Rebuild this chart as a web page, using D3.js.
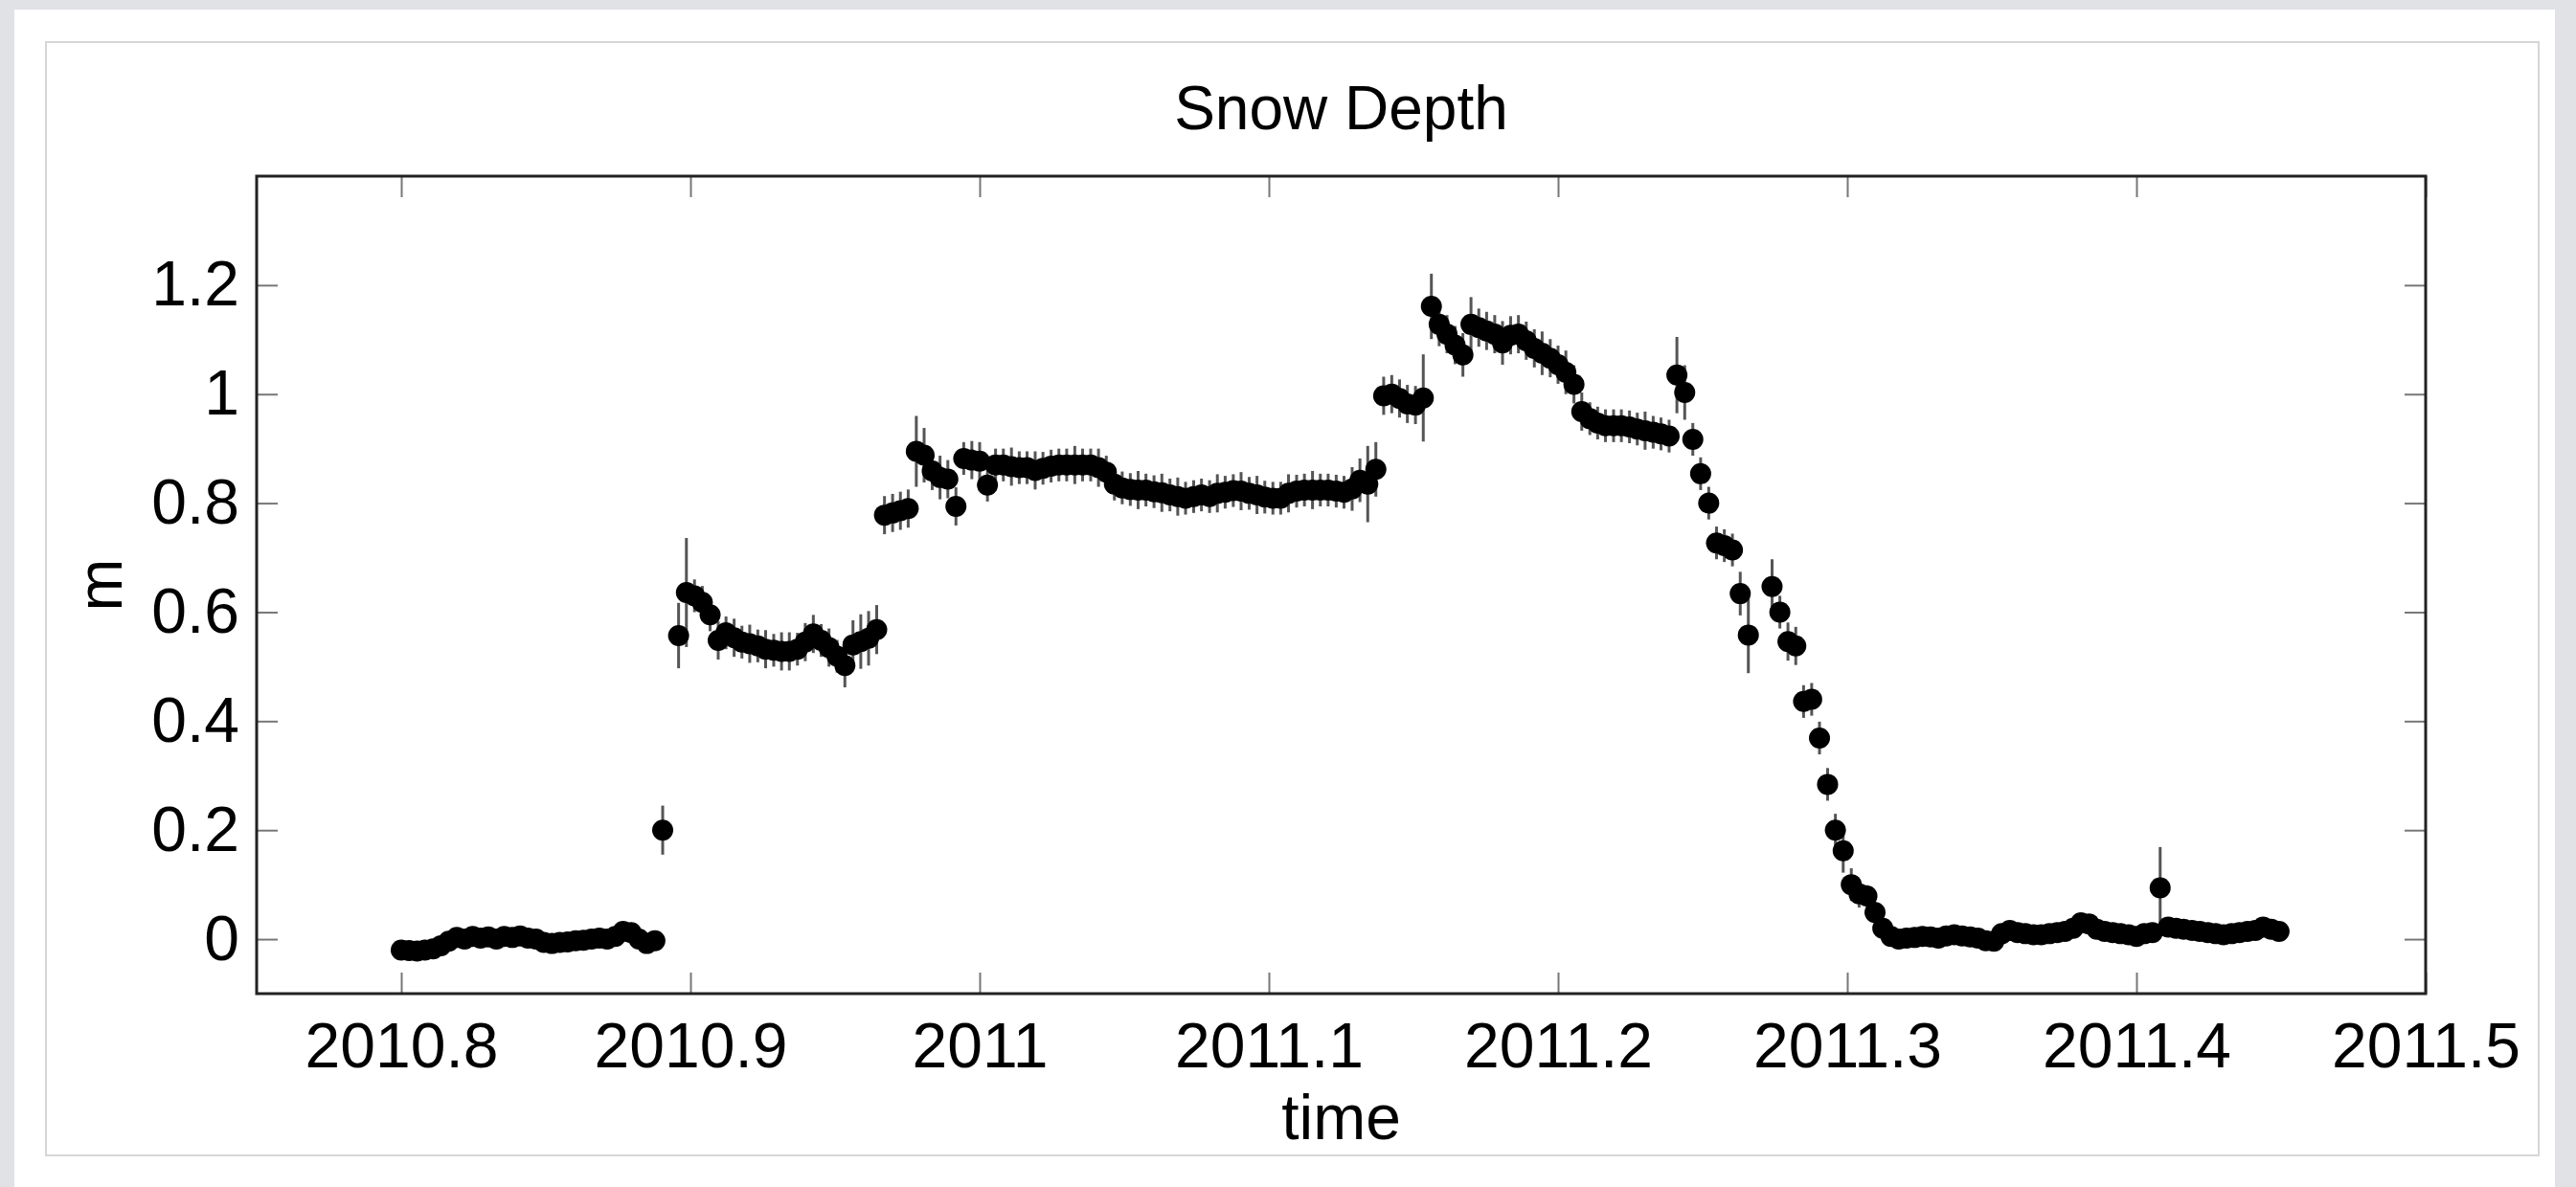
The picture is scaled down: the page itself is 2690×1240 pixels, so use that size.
<!DOCTYPE html>
<html><head><meta charset="utf-8">
<script src="https://cdn.jsdelivr.net/npm/d3@7"></script>
<style>
html,body{margin:0;padding:0;background:#e1e2e6;}
svg{display:block;}
</style></head>
<body>
<svg id="chart" width="2690" height="1240"></svg>
<script>
// ---- data (decimal year, snow depth in m, error in m) ----
const years = [
2010.8000,2010.8027,2010.8055,2010.8082,2010.8110,2010.8137,2010.8164,2010.8192,2010.8219,2010.8247,
2010.8274,2010.8301,2010.8329,2010.8356,2010.8384,2010.8411,2010.8438,2010.8466,2010.8493,2010.8521,
2010.8548,2010.8575,2010.8603,2010.8630,2010.8658,2010.8685,2010.8712,2010.8740,2010.8767,2010.8795,
2010.8822,2010.8849,2010.8877,2010.8904,2010.8959,2010.8986,2010.9014,2010.9041,2010.9068,2010.9096,
2010.9123,2010.9151,2010.9178,2010.9205,2010.9233,2010.9260,2010.9288,2010.9315,2010.9342,2010.9370,
2010.9397,2010.9425,2010.9452,2010.9479,2010.9507,2010.9534,2010.9562,2010.9589,2010.9616,2010.9644,
2010.9671,2010.9699,2010.9726,2010.9753,2010.9781,2010.9808,2010.9836,2010.9863,2010.9890,2010.9918,
2010.9945,2010.9973,2011.0000,2011.0027,2011.0055,2011.0082,2011.0110,2011.0137,2011.0164,2011.0192,
2011.0219,2011.0247,2011.0274,2011.0301,2011.0329,2011.0356,2011.0384,2011.0411,2011.0438,2011.0466,
2011.0493,2011.0521,2011.0548,2011.0575,2011.0603,2011.0630,2011.0658,2011.0685,2011.0712,2011.0740,
2011.0767,2011.0795,2011.0822,2011.0849,2011.0877,2011.0904,2011.0932,2011.0959,2011.0986,2011.1014,
2011.1041,2011.1068,2011.1096,2011.1123,2011.1151,2011.1178,2011.1205,2011.1233,2011.1260,2011.1288,
2011.1315,2011.1342,2011.1370,2011.1397,2011.1425,2011.1452,2011.1479,2011.1507,2011.1534,2011.1562,
2011.1589,2011.1616,2011.1644,2011.1671,2011.1699,2011.1726,2011.1753,2011.1781,2011.1808,2011.1836,
2011.1863,2011.1890,2011.1918,2011.1945,2011.1973,2011.2000,2011.2027,2011.2055,2011.2082,2011.2110,
2011.2137,2011.2164,2011.2192,2011.2219,2011.2247,2011.2274,2011.2301,2011.2329,2011.2356,2011.2384,
2011.2411,2011.2438,2011.2466,2011.2493,2011.2521,2011.2548,2011.2575,2011.2603,2011.2630,2011.2658,
2011.2740,2011.2767,2011.2795,2011.2822,2011.2849,2011.2877,2011.2904,2011.2932,2011.2959,2011.2986,
2011.3014,2011.3041,2011.3068,2011.3096,2011.3123,2011.3151,2011.3178,2011.3205,2011.3233,2011.3260,
2011.3288,2011.3315,2011.3342,2011.3370,2011.3397,2011.3425,2011.3452,2011.3479,2011.3507,2011.3534,
2011.3562,2011.3589,2011.3616,2011.3644,2011.3671,2011.3699,2011.3726,2011.3753,2011.3781,2011.3808,
2011.3836,2011.3863,2011.3890,2011.3918,2011.3945,2011.3973,2011.4000,2011.4027,2011.4055,2011.4082,
2011.4110,2011.4137,2011.4164,2011.4192,2011.4219,2011.4247,2011.4274,2011.4301,2011.4329,2011.4356,
2011.4384,2011.4411,2011.4438,2011.4466,2011.4493
];
const depth = [
-0.020,-0.021,-0.022,-0.020,-0.018,-0.012,-0.004,0.003,0.000,0.005,
0.002,0.004,0.000,0.005,0.003,0.006,0.002,0.000,-0.006,-0.008,
-0.006,-0.005,-0.003,-0.002,0.000,0.002,0.000,0.005,0.014,0.012,
0.000,-0.008,-0.003,0.200,0.557,0.636,0.630,0.618,0.595,0.548,
0.562,0.553,0.545,0.542,0.538,0.532,0.530,0.528,0.528,0.532,
0.545,0.560,0.548,0.535,0.519,0.502,0.540,0.546,0.552,0.568,
0.778,0.782,0.786,0.790,0.895,0.888,0.859,0.847,0.844,0.794,
0.882,0.879,0.877,0.833,0.870,0.870,0.867,0.865,0.865,0.860,
0.864,0.868,0.870,0.870,0.870,0.870,0.870,0.865,0.857,0.835,
0.828,0.825,0.824,0.824,0.821,0.819,0.815,0.812,0.809,0.812,
0.815,0.812,0.818,0.820,0.823,0.822,0.818,0.815,0.811,0.809,
0.809,0.818,0.822,0.824,0.824,0.824,0.824,0.822,0.820,0.826,
0.842,0.835,0.862,0.997,1.000,0.992,0.982,0.980,0.993,1.161,
1.128,1.110,1.090,1.072,1.128,1.122,1.116,1.110,1.094,1.108,
1.110,1.098,1.084,1.075,1.066,1.054,1.040,1.018,0.968,0.955,
0.947,0.942,0.942,0.942,0.940,0.936,0.933,0.930,0.927,0.923,
1.035,1.003,0.917,0.854,0.800,0.727,0.722,0.714,0.634,0.558,
0.647,0.600,0.546,0.538,0.436,0.440,0.369,0.284,0.200,0.162,
0.100,0.083,0.079,0.049,0.020,0.005,0.000,0.002,0.003,0.005,
0.004,0.002,0.006,0.008,0.006,0.004,0.002,-0.003,-0.004,0.010,
0.016,0.012,0.010,0.008,0.008,0.010,0.012,0.014,0.020,0.030,
0.028,0.018,0.014,0.012,0.010,0.008,0.005,0.010,0.012,0.094,
0.022,0.020,0.018,0.016,0.014,0.012,0.010,0.008,0.010,0.012,
0.014,0.016,0.022,0.018,0.014
];
const errs = [
0.008,0.008,0.008,0.008,0.008,0.008,0.008,0.008,0.008,0.008,
0.008,0.008,0.008,0.008,0.008,0.008,0.008,0.008,0.008,0.008,
0.008,0.008,0.008,0.008,0.008,0.008,0.008,0.008,0.008,0.008,
0.008,0.008,0.008,0.045,0.060,0.100,0.030,0.030,0.030,0.035,
0.030,0.035,0.030,0.035,0.030,0.035,0.030,0.035,0.035,0.030,
0.035,0.035,0.030,0.035,0.030,0.040,0.045,0.050,0.050,0.045,
0.035,0.035,0.035,0.035,0.065,0.050,0.035,0.040,0.035,0.035,
0.030,0.035,0.035,0.030,0.030,0.030,0.035,0.030,0.030,0.035,
0.030,0.030,0.030,0.030,0.035,0.030,0.030,0.035,0.030,0.030,
0.030,0.030,0.035,0.030,0.030,0.035,0.030,0.035,0.030,0.030,
0.030,0.030,0.035,0.030,0.030,0.035,0.030,0.035,0.030,0.030,
0.030,0.035,0.030,0.030,0.035,0.030,0.030,0.030,0.030,0.040,
0.040,0.070,0.050,0.035,0.035,0.035,0.035,0.035,0.080,0.060,
0.040,0.035,0.035,0.040,0.050,0.035,0.035,0.035,0.040,0.035,
0.035,0.035,0.035,0.040,0.035,0.035,0.040,0.035,0.035,0.030,
0.030,0.030,0.030,0.030,0.030,0.030,0.035,0.030,0.030,0.030,
0.070,0.050,0.030,0.030,0.030,0.030,0.030,0.030,0.040,0.070,
0.050,0.030,0.035,0.035,0.030,0.030,0.030,0.030,0.030,0.040,
0.030,0.025,0.020,0.020,0.015,0.010,0.010,0.010,0.010,0.010,
0.010,0.010,0.010,0.010,0.010,0.010,0.010,0.012,0.010,0.010,
0.010,0.010,0.010,0.010,0.010,0.010,0.010,0.010,0.010,0.010,
0.010,0.010,0.010,0.010,0.010,0.010,0.012,0.010,0.010,0.075,
0.010,0.010,0.010,0.010,0.010,0.010,0.010,0.010,0.010,0.010,
0.010,0.010,0.010,0.010,0.010
];
const xTicks = [2010.8, 2010.9, 2011.0, 2011.1, 2011.2, 2011.3, 2011.4, 2011.5];
const yTicks = [0, 0.2, 0.4, 0.6, 0.8, 1.0, 1.2];
const xDomain = [2010.75, 2011.5];
const yDomain = [-0.1, 1.4];
const titleText = "Snow Depth";
const xLabel = "time";
const yLabel = "m";

// ---- layout ----
const svg = d3.select("#chart");
const FONT = "'Liberation Sans', Arial, Helvetica, sans-serif";
const L = 268, R = 2533, T = 184, B = 1038;

// page panels
svg.append("rect").attr("x", 15).attr("y", 10).attr("width", 2653).attr("height", 1230).attr("fill", "#ffffff");
svg.append("rect").attr("x", 48).attr("y", 44).attr("width", 2603).attr("height", 1163)
  .attr("fill", "none").attr("stroke", "#d6d6d6").attr("stroke-width", 2);

const x = d3.scaleLinear().domain(xDomain).range([L, R]);
const y = d3.scaleLinear().domain(yDomain).range([B, T]);
const fmt = d => String(+d.toFixed(1));

function styleAxis(g, showText) {
  g.select(".domain").remove();
  g.selectAll(".tick line").attr("stroke", "#777").attr("stroke-width", 2);
  g.selectAll(".tick text").attr("fill", "#000").style("font-family", FONT).style("font-size", "66px");
  if (!showText) g.selectAll(".tick text").remove();
}

svg.append("g").attr("transform", `translate(0,${B})`)
  .call(d3.axisBottom(x).tickValues(xTicks).tickSize(-22).tickPadding(30).tickFormat(fmt))
  .call(g => styleAxis(g, true));
svg.append("g").attr("transform", `translate(0,${T})`)
  .call(d3.axisTop(x).tickValues(xTicks).tickSize(-22))
  .call(g => styleAxis(g, false));
svg.append("g").attr("transform", `translate(${L},0)`)
  .call(d3.axisLeft(y).tickValues(yTicks).tickSize(-22).tickPadding(18).tickFormat(fmt))
  .call(g => styleAxis(g, true));
svg.append("g").attr("transform", `translate(${R},0)`)
  .call(d3.axisRight(y).tickValues(yTicks).tickSize(-22))
  .call(g => styleAxis(g, false));

const data = years.map((t, i) => ({t, v: depth[i], e: errs[i]}));

// error bars
svg.append("g").selectAll("line").data(data).join("line")
  .attr("x1", d => x(d.t)).attr("x2", d => x(d.t))
  .attr("y1", d => y(d.v - d.e)).attr("y2", d => y(d.v + d.e))
  .attr("stroke", "#555").attr("stroke-width", 3);

// markers
svg.append("g").selectAll("circle").data(data).join("circle")
  .attr("cx", d => x(d.t)).attr("cy", d => y(d.v)).attr("r", 11)
  .attr("fill", "#000");

// plot box
svg.append("rect").attr("x", L).attr("y", T).attr("width", R - L).attr("height", B - T)
  .attr("fill", "none").attr("stroke", "#222").attr("stroke-width", 3);

// titles
svg.append("text").attr("x", (L + R) / 2).attr("y", 135).attr("text-anchor", "middle")
  .style("font-family", FONT).style("font-size", "64px").attr("fill", "#000").text(titleText);
svg.append("text").attr("x", (L + R) / 2).attr("y", 1190).attr("text-anchor", "middle")
  .style("font-family", FONT).style("font-size", "66px").attr("fill", "#000").text(xLabel);
svg.append("text").attr("transform", `translate(127,${(T + B) / 2}) rotate(-90)`).attr("text-anchor", "middle")
  .style("font-family", FONT).style("font-size", "66px").attr("fill", "#000").text(yLabel);
</script>
</body></html>
